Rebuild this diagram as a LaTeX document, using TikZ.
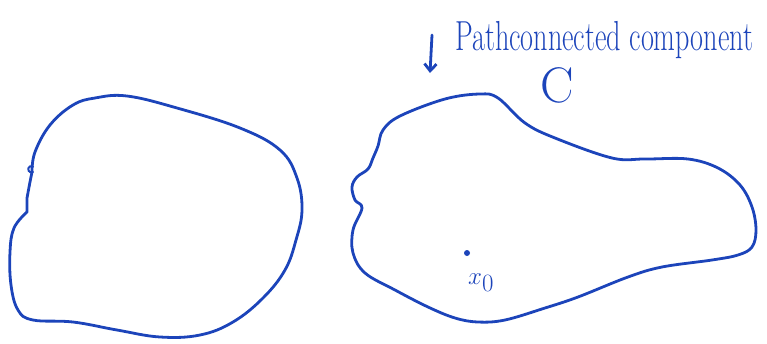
\documentclass[tikz,border=0pt]{standalone}
\usepackage{tikz}
\usetikzlibrary{arrows.meta,positioning}
\definecolor{pen}{RGB}{28,68,186}

\begin{document}
\begin{tikzpicture}[
    x=1pt,y=-1pt,>={Straight Barb[length=7pt,width=12pt]},
    ink/.style={draw=pen,line width=2.8pt,line cap=round,line join=round},
    note/.style={text=pen,inner sep=0pt}
  ]
  \useasboundingbox (0,0) rectangle (767,343);
  % left region
  \draw[ink] plot[smooth,tension=0.65] coordinates {
    (32,172) (35,152) (50,125) (73,105) (95,98) (127,96)
    (177,108) (240,128) (280,150) (297,178)
    (302,210) (296,240) (285,270) (263,298) (233,322) (200,335)
    (160,337) (117,330) (73,322) (33,320) (18,310) (11,285) (10,252)
    (14,228) (27,212)}
    -- (27,198) -- plot[smooth,tension=0.6] coordinates {(27,198) (30,182) (32,172)};
  \draw[ink,line width=2pt] (33,172) arc[start angle=60,end angle=300,radius=3.2];
  % right region
  \draw[ink] plot[smooth cycle,tension=0.6] coordinates {
    (378,146) (383,130) (400,116) (445,99) (480,94)
    (498,98) (525,123) (555,138) (612,158) (645,159)
    (688,159) (718,168) (740,185) (752,207) (756,230) (752,247)
    (738,255) (712,260) (662,267) (628,277) (578,297) (545,308)
    (505,320) (478,322) (455,318) (428,307) (395,290) (365,273)
    (353,253) (353,230) (362,208) (355,200) (352,187)
    (357,177) (368,169) (373,158)};
  % labels
  \node[note,anchor=base west,font=\fontsize{42}{42}\selectfont] (title) at (455,50) {\scalebox{0.67}[1]{Pathconnected component}};
  \coordinate (arrtop) at (432,35);
  \coordinate (arrbot) at (430,73);
  \draw[ink,->] (arrtop) -- (arrbot);
  \node[note,anchor=base,font=\fontsize{50}{50}\selectfont] (comp) at (557,102) {C};
  \fill[pen] (467,253) circle (3);
  \node[note,anchor=base west,font=\fontsize{36}{36}\selectfont] (xzero) at (468,284) {$x_0$};
\end{tikzpicture}
\end{document}
